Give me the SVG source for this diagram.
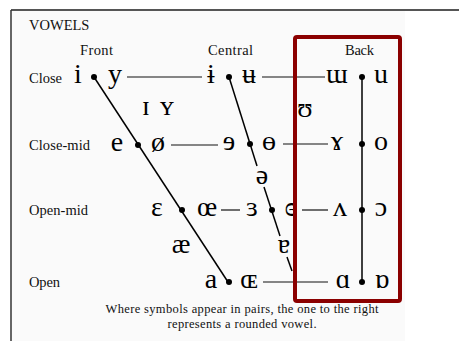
<svg xmlns="http://www.w3.org/2000/svg" width="459" height="341" viewBox="0 0 459 341">
<style>
.v{font-family:"Liberation Serif","DejaVu Serif",serif;font-size:28px;fill:#000;text-anchor:middle}
.lab{font-family:"Liberation Serif","Times New Roman",serif;font-size:14.5px;fill:#111}
.hd{font-family:"Liberation Serif","Times New Roman",serif;font-size:14.5px;fill:#111}
.note{font-family:"Liberation Serif","Times New Roman",serif;font-size:12.5px;fill:#111;text-anchor:middle}
.ln{stroke:#000;stroke-width:1.5;fill:none}
.hl{stroke:#111;stroke-width:1.2;fill:none}
.dot{fill:#000}
</style>
<rect x="0" y="0" width="459" height="341" fill="#ffffff"/>
<rect x="12" y="11" width="393" height="330" fill="#fafafa"/>
<line x1="11" y1="10" x2="459" y2="10" stroke="#555" stroke-width="2"/>
<line x1="11" y1="10" x2="11" y2="341" stroke="#333" stroke-width="1.5"/>

<g id="title"><text class="hd" x="29" y="30" font-size="17">VOWELS</text></g>
<g id="col-front"><text class="hd" x="80" y="55" textLength="33">Front</text></g>
<g id="col-central"><text class="hd" x="208" y="55" textLength="45">Central</text></g>
<g id="col-back"><text class="hd" x="345" y="55" textLength="29">Back</text></g>
<g id="row-close"><text class="lab" x="29" y="83" textLength="33">Close</text></g>
<g id="row-closemid"><text class="lab" x="29" y="150" textLength="61">Close-mid</text></g>
<g id="row-openmid"><text class="lab" x="29" y="215" textLength="59">Open-mid</text></g>
<g id="row-open"><text class="lab" x="29" y="287" textLength="31">Open</text></g>

<g id="connectors">
<line class="ln" x1="94" y1="77" x2="228" y2="282"/>
<line class="ln" x1="229" y1="77" x2="257" y2="166"/>
<line class="ln" x1="264" y1="187" x2="280" y2="236"/>
<line class="ln" x1="287" y1="257" x2="292" y2="271"/>
<line class="ln" x1="362" y1="77" x2="362" y2="282"/>
<line class="hl" x1="127" y1="77" x2="202" y2="77"/>
<line class="hl" x1="262" y1="77" x2="325" y2="77"/>
<line class="hl" x1="171" y1="145" x2="218" y2="145"/>
<line class="hl" x1="283" y1="144" x2="328" y2="144"/>
<line class="hl" x1="221" y1="210" x2="240" y2="210"/>
<line class="hl" x1="302" y1="210" x2="328" y2="210"/>
<line class="hl" x1="263" y1="282" x2="328" y2="282"/>
</g>

<g id="close-front"><text class="v" x="78" y="83">i</text><circle class="dot" cx="94" cy="77" r="3"/><text class="v" x="115" y="83">y</text></g>
<g id="close-central"><text class="v" x="211" y="83">ɨ</text><circle class="dot" cx="229" cy="77" r="3"/><text class="v" x="249" y="83">ʉ</text></g>
<g id="close-back"><text class="v" x="337" y="83">ɯ</text><circle class="dot" cx="362" cy="77" r="3"/><text class="v" x="381" y="83">u</text></g>
<g id="near-close-front"><text class="v" x="146" y="115">ɪ</text><text class="v" x="167" y="115">ʏ</text></g>
<g id="near-close-back"><text class="v" x="305" y="117">ʊ</text></g>
<g id="closemid-front"><text class="v" x="117" y="151">e</text><circle class="dot" cx="138" cy="145" r="3"/><text class="v" x="158" y="151">ø</text></g>
<g id="closemid-central"><text class="v" x="229" y="150">ɘ</text><circle class="dot" cx="250" cy="144" r="3"/><text class="v" x="269" y="150">ɵ</text></g>
<g id="closemid-back"><text class="v" x="337" y="150">ɤ</text><circle class="dot" cx="362" cy="144" r="3"/><text class="v" x="381" y="150">o</text></g>
<g id="mid-central"><text class="v" x="262" y="184">ə</text></g>
<g id="openmid-front"><text class="v" x="157" y="216">ɛ</text><circle class="dot" cx="182" cy="210" r="3"/><text class="v" x="207" y="216">œ</text></g>
<g id="openmid-central"><text class="v" x="252" y="216">ɜ</text><circle class="dot" cx="272" cy="210" r="3"/><text class="v" x="291" y="216">ɞ</text></g>
<g id="openmid-back"><text class="v" x="340" y="216">ʌ</text><circle class="dot" cx="362" cy="210" r="3"/><text class="v" x="381" y="216">ɔ</text></g>
<g id="near-open-front"><text class="v" x="181" y="253">æ</text></g>
<g id="near-open-central"><text class="v" x="284" y="253">ɐ</text></g>
<g id="open-front"><text class="v" x="211" y="288">a</text><circle class="dot" cx="229" cy="282" r="3"/><text class="v" x="249" y="288">ɶ</text></g>
<g id="open-back"><text class="v" x="343" y="288">ɑ</text><circle class="dot" cx="362" cy="282" r="3"/><text class="v" x="382" y="288">ɒ</text></g>

<g id="back-box"><rect x="295" y="37" width="105" height="264" rx="2" fill="none" stroke="#8b0000" stroke-width="4"/></g>

<g id="footnote">
<text class="note" x="242" y="313" textLength="273">Where symbols appear in pairs, the one to the right</text>
<text class="note" x="242" y="328" textLength="149">represents a rounded vowel.</text>
</g>
</svg>
